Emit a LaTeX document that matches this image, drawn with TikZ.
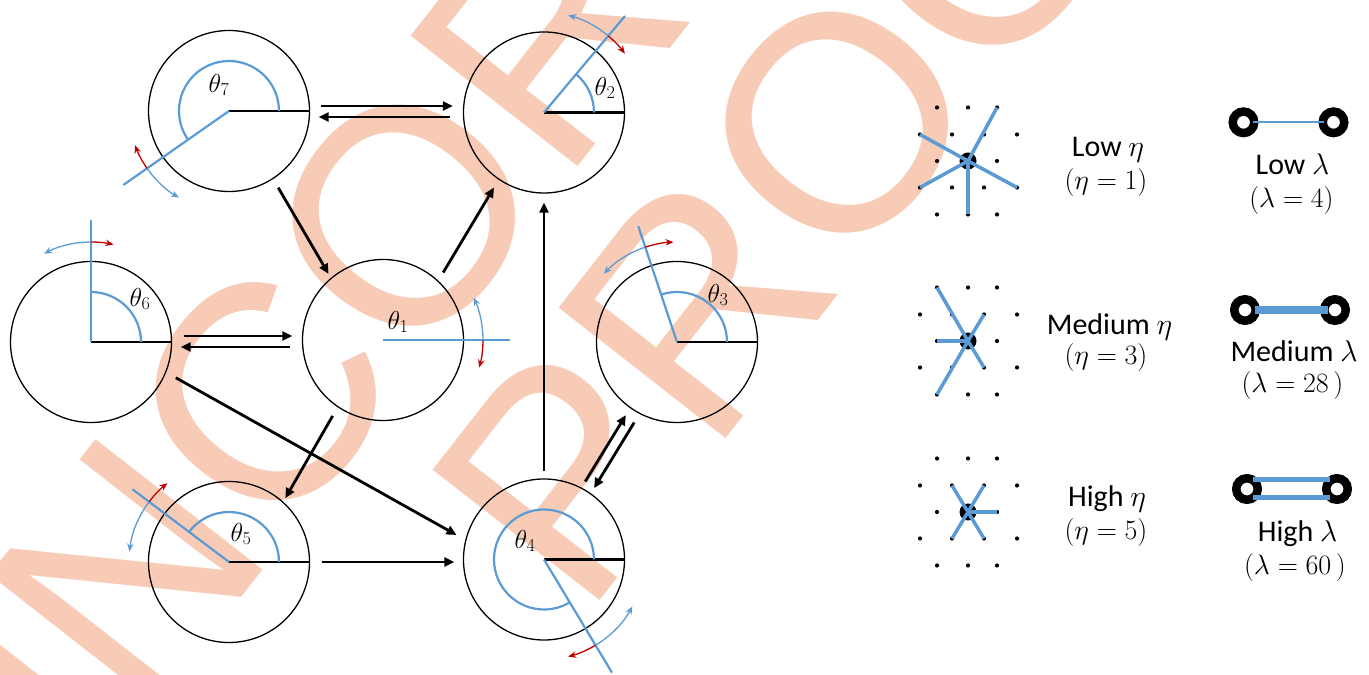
\RequirePackage{fix-cm}
\documentclass[tikz,border=0pt]{standalone}
\usepackage[no-math]{fontspec}
\newfontfamily\carlito{Carlito}
\newfontfamily\wmfont{Liberation Sans}
\usetikzlibrary{arrows.meta,calc}
\definecolor{myblue}{HTML}{5B9BD5}
\definecolor{myred}{HTML}{C00000}
\definecolor{wmsalmon}{HTML}{F8CBB6}
\begin{document}
\begin{tikzpicture}[x=1pt,y=1pt,
  circ/.style={circle,draw=black,line width=1.3pt,minimum size=161pt,inner sep=0pt},
  conn/.style={line width=2.8pt,-{Triangle[length=10pt,width=9pt]}},
  rad/.style={line width=2.2pt,draw=black},
  ray/.style={line width=2.2pt,draw=myblue},
  cwarr/.style={line width=1.3pt,draw=myred,-{Stealth[length=8pt,width=6.5pt]}},
  ccwarr/.style={line width=1.3pt,draw=myblue,-{Stealth[length=8pt,width=6.5pt]}},
  lbl/.style={inner sep=0pt,font=\fontsize{26}{26}\selectfont},
  arm/.style={line width=3.5pt,draw=myblue},
  ring/.style={draw=black,line width=8.5pt},
  legw/.style={inner sep=0pt,anchor=base,font=\carlito\fontsize{30}{30}\selectfont},
  legm/.style={inner sep=0pt,anchor=base,font=\fontsize{28}{28}\selectfont},
  wm/.style={inner sep=0pt,text=wmsalmon,font=\wmfont\fontsize{308}{308}\selectfont},
]
\fill[white] (0,0) rectangle (1369,675);
\useasboundingbox (0,0) rectangle (1369,675);

% watermark
\begin{scope}
\clip (0,0) rectangle (1369,675);
\node[wm,anchor=base west,rotate=52] (wm1) at (4,-226) {UNCORRECTED};
\node[wm,anchor=base west,rotate=52] (wm2) at (584,54.8) {PROOF};
\end{scope}

% circles
\node[circ] (n7) at (229,564) {};
\node[circ] (n2) at (544,562.5) {};
\node[circ] (n6) at (91,333) {};
\node[circ] (n1) at (383,335) {};
\node[circ] (n3) at (677,333) {};
\node[circ] (n5) at (229,113) {};
\node[circ] (n4) at (544,115.5) {};

% angles
\foreach \n/\a/\L/\r/\b in {n7/215/129/200/240, n2/50/126/36/76, n6/90/122/77/118, n3/108.5/122/92/137, n5/143/121/128/174, n4/301/132/284/332}{
  \draw[rad] (\n.center) -- (\n.east);
  \draw[ray] ([shift={(0:50)}]\n.center) arc[start angle=0,end angle=\a,radius=50];
  \draw[ray] (\n.center) -- ++(\a:\L);
  \draw[cwarr] ([shift={(\a:100)}]\n.center) arc[start angle=\a,end angle=\r,radius=100];
  \draw[ccwarr] ([shift={(\a:100)}]\n.center) arc[start angle=\a,end angle=\b,radius=100];
}
\draw[ray] (n1.center) -- ++(0:127);
\draw[cwarr] ([shift={(0:100)}]n1.center) arc[start angle=0,end angle=-16,radius=100];
\draw[ccwarr] ([shift={(0:100)}]n1.center) arc[start angle=0,end angle=25,radius=100];

% labels
\node[lbl] (t7) at (219,590) {$\theta_7$};
\node[lbl] (t2) at (605,587) {$\theta_2$};
\node[lbl] (t6) at (140,376) {$\theta_6$};
\node[lbl] (t1) at (398,353) {$\theta_1$};
\node[lbl] (t3) at (718,380) {$\theta_3$};
\node[lbl] (t5) at (241,141) {$\theta_5$};
\node[lbl] (t4) at (525,134) {$\theta_4$};

% connectors
\draw[conn,shorten <=11pt,shorten >=10pt] ([yshift=5pt]n7.east) -- ([yshift=6.5pt]n2.west);
\draw[conn,shorten <=12.5pt,shorten >=8.5pt] ([yshift=-4.5pt]n2.west) -- ([yshift=-6pt]n7.east);
\draw[conn,shorten <=11.5pt,shorten >=9.5pt] ([yshift=6pt]n6.east) -- ([yshift=4pt]n1.west);
\draw[conn,shorten <=11.5pt,shorten >=8.5pt] ([yshift=-7pt]n1.west) -- ([yshift=-5pt]n6.east);
\draw[conn,shorten <=10pt,shorten >=4.5pt] (n7.-57) -- (n1.130);
\draw[conn,shorten <=9.5pt,shorten >=9pt] (n1.47) -- (n2.-124);
\draw[conn,shorten <=10pt,shorten >=4pt] (n1.-124) -- (n5.48);
\draw[conn,shorten <=11pt,shorten >=10pt] (n6.-22) -- (n4.166);
\draw[conn,shorten <=11.5pt,shorten >=8.5pt] (n5.east) -- (n5.east -| n4.west);
\draw[conn,shorten <=7pt,shorten >=9pt] (n4.north) -- (n2.south);
\draw[conn,shorten <=88pt,shorten >=89pt] ($(n4.center)!5.5pt!90:(n3.center)$) -- ($(n3.center)!5.5pt!-90:(n4.center)$);
\draw[conn,shorten <=91pt,shorten >=87pt] ($(n3.center)!5.5pt!90:(n4.center)$) -- ($(n4.center)!5.5pt!-90:(n3.center)$);

% eta legend
\coordinate (e1) at (968,514);
\coordinate (e3) at (968,334);
\coordinate (e5) at (968,163);
\foreach \c in {e1,e3,e5}{
  \foreach \dx/\dy in {-31/53.5,0/53.5,29/53.5,-48/26.5,-16/26.5,16/26.5,49/26.5,-31/0,29/0,-48/-26.5,-16/-26.5,16/-26.5,49/-26.5,-31/-53.5,0/-53.5,29/-53.5}
    \fill ([shift={(\dx,\dy)}]\c) circle[radius=2.1pt];
  \fill (\c) circle[radius=8.5pt];
}
\foreach \dx/\dy in {-48/26.5,29/53.5,-48/-26.5,49/-26.5,0/-53.5}
  \draw[arm] (e1) -- ++(\dx,\dy);
\foreach \dx/\dy in {-31/53.5,16/-26.5,16/26.5,-31/-53.5,-31/0}
  \draw[arm] (e3) -- ++(\dx,\dy);
\foreach \dx/\dy in {-16/26.5,16/26.5,29/0,-16/-26.5,16/-26.5}
  \draw[arm] (e5) -- ++(\dx,\dy);

\node[legw] (le1) at (1108,518) {Low $\eta$};
\node[legm] (lv1) at (1106,485) {$(\eta = 1)$};
\node[legw] (le3) at (1109.5,340) {Medium $\eta$};
\node[legm] (lv3) at (1106,310) {$(\eta = 3)$};
\node[legw] (le5) at (1107,168) {High $\eta$};
\node[legm] (lv5) at (1106,135) {$(\eta = 5)$};

% lambda legend
\draw[ring] (1243.5,552.7) circle[radius=10.75pt];
\draw[ring] (1333.5,552.7) circle[radius=10.75pt];
\draw[myblue,line width=1.7pt] (1253,552.7) -- (1324,552.7);
\draw[ring] (1245,365) circle[radius=10.75pt];
\draw[ring] (1335,365) circle[radius=10.75pt];
\draw[myblue,line width=7.3pt] (1255,365) -- (1328,365);
\draw[ring] (1247,186) circle[radius=10.75pt];
\draw[ring] (1337,186) circle[radius=10.75pt];
\draw[myblue,line width=5.5pt] (1253,195.5) -- (1330,195.5);
\draw[myblue,line width=5.5pt] (1253,177.5) -- (1330,177.5);

\node[legw] (ll1) at (1292.5,500) {Low $\lambda$};
\node[legm] (lw1) at (1291.5,467) {$(\lambda = 4)$};
\node[legw] (ll3) at (1294,313) {Medium $\lambda$};
\node[legm] (lw3) at (1292.5,282) {$(\lambda = 28\,)$};
\node[legw] (ll5) at (1297.5,133) {High $\lambda$};
\node[legm] (lw5) at (1295,100) {$(\lambda = 60\,)$};
\end{tikzpicture}
\end{document}
